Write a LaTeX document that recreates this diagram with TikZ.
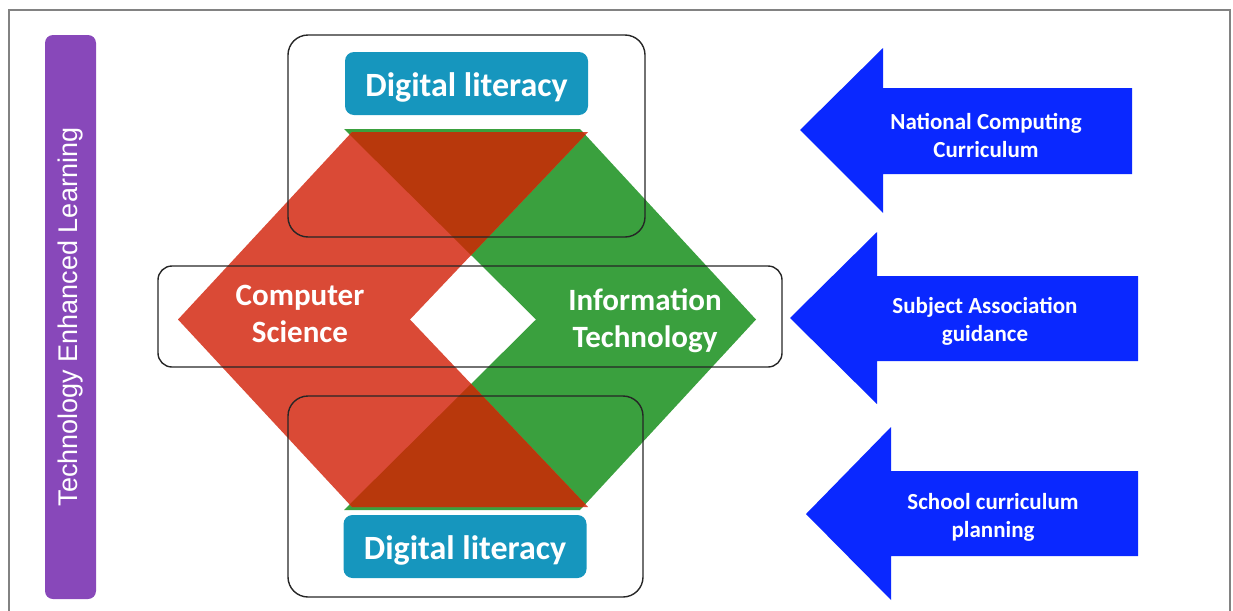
\documentclass[tikz,border=0pt]{standalone}
\usepackage{fontspec}
\setmainfont{Carlito}
\newfontfamily\arialfont{Liberation Sans}
\usepackage{tikz}
\usetikzlibrary{calc}
\usepackage{xcolor}

\definecolor{csred}{RGB}{218,74,54}
\definecolor{itgreen}{RGB}{58,160,62}
\definecolor{overlap}{RGB}{184,56,12}
\definecolor{dlblue}{RGB}{22,150,190}
\definecolor{telpurple}{RGB}{136,72,186}
\definecolor{arrowblue}{RGB}{10,40,255}
\definecolor{framegray}{RGB}{130,130,130}

\begin{document}
\begin{tikzpicture}[x=50pt, y=-50pt,
        outline/.style={rectangle, draw=black!85, line width=0.7pt, rounded corners=9pt},
        dlit/.style={rectangle, fill=dlblue, rounded corners=4.5pt, text=white, font=\bfseries\fontsize{17}{20}\selectfont, text height=17pt, text depth=3.6pt, minimum width=121.5pt, minimum height=31.5pt},
        subject/.style={text=white, align=center, font=\bfseries\fontsize{15.5}{18.5}\selectfont},
        source/.style={text=white, align=center, font=\bfseries\fontsize{11.5}{14}\selectfont},
        bigarrow/.style={fill=arrowblue},
        ]
        \useasboundingbox (0,0) rectangle (12.33,6.11);
        \draw[framegray, line width=1pt] (0.09,6.11) -- (0.09,0.10) -- (12.30,0.10) -- (12.30,6.11);

        \node (tel) at (0.705,3.17) [rectangle, fill=telpurple, rounded corners=4pt, rotate=90, minimum width=282pt, minimum height=25.5pt, text=white, font=\arialfont\fontsize{13.5}{16}\selectfont] {Technology Enhanced Learning};

        % chevrons
        \coordinate (r1) at (3.52,1.32);
        \coordinate (r2) at (5.88,1.32);
        \coordinate (r3) at (4.10,3.195);
        \coordinate (r4) at (5.88,5.07);
        \coordinate (r5) at (3.52,5.07);
        \coordinate (r6) at (1.78,3.195);
        \coordinate (g1) at (3.44,1.29);
        \coordinate (g2) at (5.80,1.29);
        \coordinate (g3) at (7.56,3.195);
        \coordinate (g4) at (5.80,5.10);
        \coordinate (g5) at (3.44,5.10);
        \coordinate (g6) at (5.36,3.195);

        \fill[itgreen] (g1) -- (g2) -- (g3) -- (g4) -- (g5) -- (g6) -- cycle;
        \fill[csred] (r1) -- (r2) -- (r3) -- (r4) -- (r5) -- (r6) -- cycle;
        \begin{scope}
            \clip (r1) -- (r2) -- (r3) -- (r4) -- (r5) -- (r6) -- cycle;
            \fill[overlap] (g1) -- (g2) -- (g3) -- (g4) -- (g5) -- (g6) -- cycle;
        \end{scope}

        \node (topbox) at (4.665,1.36) [outline, rounded corners=10pt, minimum width=178.5pt, minimum height=101pt] {};
        \node (midbox) at (4.70,3.165) [outline, rounded corners=7pt, minimum width=312pt, minimum height=50.5pt] {};
        \node (botbox) at (4.655,4.965) [outline, rounded corners=10pt, minimum width=177.5pt, minimum height=100.5pt] {};

        \node (dltop) at (4.665,0.835) [dlit] {Digital literacy};
        \node (dlbot) at (4.65,5.465) [dlit] {Digital literacy};

        \node (cs) at (3.00,3.14) [subject] {Computer\\Science};
        \node (it) at (6.45,3.21) [subject] {Information\\Technology};

        % influences
        \fill[bigarrow] (8.00,1.30) -- (8.83,0.48) -- (8.83,0.88) -- (11.32,0.88) -- (11.32,1.74) -- (8.83,1.74) -- (8.83,2.13) -- cycle;
        \fill[bigarrow] (7.90,3.18) -- (8.77,2.32) -- (8.77,2.76) -- (11.38,2.76) -- (11.38,3.61) -- (8.77,3.61) -- (8.77,4.04) -- cycle;
        \fill[bigarrow] (8.06,5.14) -- (8.91,4.27) -- (8.91,4.71) -- (11.38,4.71) -- (11.38,5.56) -- (8.91,5.56) -- (8.91,6.00) -- cycle;

        \node (ncc) at (9.86,1.35) [source] {National Computing\\Curriculum};
        \node (sag) at (9.85,3.21) [source] {Subject Association\\guidance};
        \node (scp) at (9.93,5.17) [source] {School curriculum\\planning};

    \end{tikzpicture}
\end{document}
